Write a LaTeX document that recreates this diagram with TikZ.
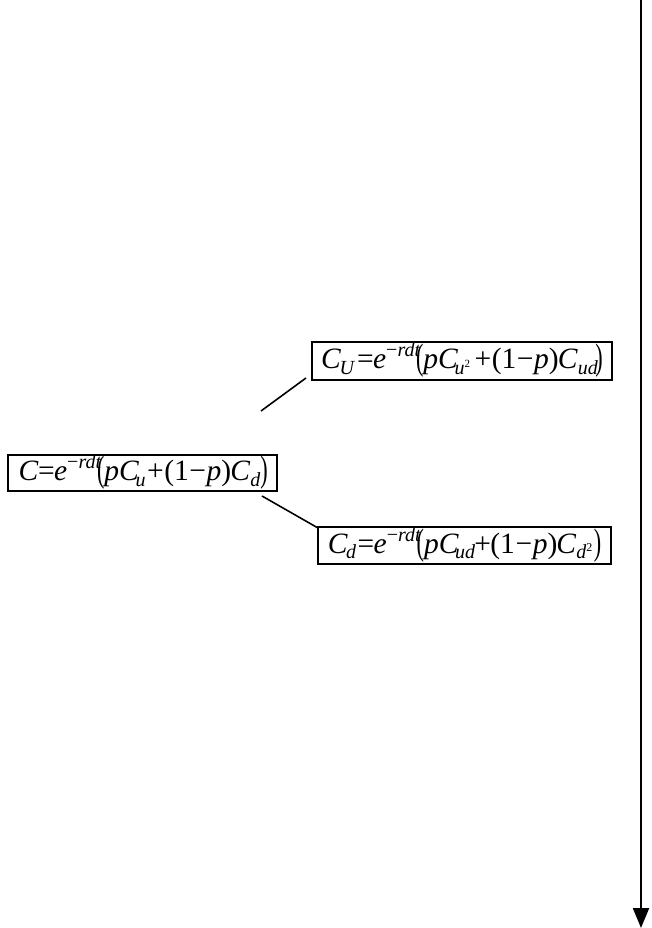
\documentclass[tikz,border=0pt]{standalone}
\usepackage{fontspec}
\usepackage{graphicx}
\setmainfont{Liberation Serif}
\usetikzlibrary{arrows.meta}
\newcommand\Iv[1]{\textit{#1}}
\newcommand\Sb[1]{\raisebox{-0.2em}{\fontsize{20}{20}\selectfont\itshape #1}}
\newcommand\Sp[1]{\raisebox{0.4em}{\fontsize{20}{20}\selectfont #1}}
\newcommand\Lp{\raisebox{-0.04em}{\scalebox{0.75}[1.25]{(}}}
\newcommand\Rp{\raisebox{-0.04em}{\scalebox{0.75}[1.25]{)}}}
\newcommand\Mi{\kern0.02em−\kern0.02em}
\tikzset{
  eqbox/.style={draw, line width=2.2pt, inner sep=0pt, font=\fontsize{29.5}{31}\selectfont, anchor=center},
  conn/.style={line width=1.6pt},
  timeline/.style={line width=2.2pt, -{Triangle[width=16pt,length=20pt]}}
}
\begin{document}
\begin{tikzpicture}[x=1pt,y=1pt]
\useasboundingbox (0,0) rectangle (652,-928);
\node[eqbox, minimum width=269pt, text height=25.5pt, text depth=10.5pt] (root) at (142.5,-473)
  {\kern0.05em\Iv{C}\kern-0.02em=\kern-0.02em\Iv{e}\Sp{−\Iv{rdt}}\kern-0.15em\Lp\Iv{p}\Iv{C}\kern-0.12em\Sb{u}\kern0.05em+\kern0.02em(1\Mi\Iv{p})\kern-0.03em\Iv{C}\Sb{d}\Rp};
\node[eqbox, minimum width=300pt, text height=26.5pt, text depth=11.5pt] (up) at (462,-361)
  {\Iv{C}\kern-0.05em\Sb{U}\kern0.1em=\kern-0.02em\Iv{e}\Sp{−\Iv{rdt}}\kern-0.15em\Lp\Iv{p}\Iv{C}\kern-0.12em\Sb{u\raisebox{0.35em}{\fontsize{11}{11}\selectfont\upshape 2}}\kern0.15em+\kern0.02em(1\Mi\Iv{p})\kern-0.03em\Iv{C}\Sb{ud}\kern-0.08em\Rp};
\node[eqbox, minimum width=293pt, text height=26pt, text depth=11pt] (down) at (464.5,-545.5)
  {\Iv{C}\kern-0.05em\Sb{d}\kern0.05em=\kern-0.02em\Iv{e}\Sp{−\Iv{rdt}}\kern-0.15em\Lp\Iv{p}\Iv{C}\kern-0.12em\Sb{ud}\kern-0.03em+\kern-0.02em(1\Mi\Iv{p})\kern-0.03em\Iv{C}\Sb{d\raisebox{0.35em}{\fontsize{12}{12}\selectfont\upshape 2}}\kern0.05em\Rp};
\coordinate (u1) at (261,-411);
\coordinate (u2) at (306,-378);
\coordinate (d1) at (262,-496);
\coordinate (d2) at (318,-528);
\draw[conn] (u1) -- (u2);
\draw[conn] (d1) -- (d2);
\coordinate (ttop) at (641,0);
\coordinate (tbot) at (641,-928);
\draw[timeline] (ttop) -- (tbot);
\end{tikzpicture}
\end{document}
